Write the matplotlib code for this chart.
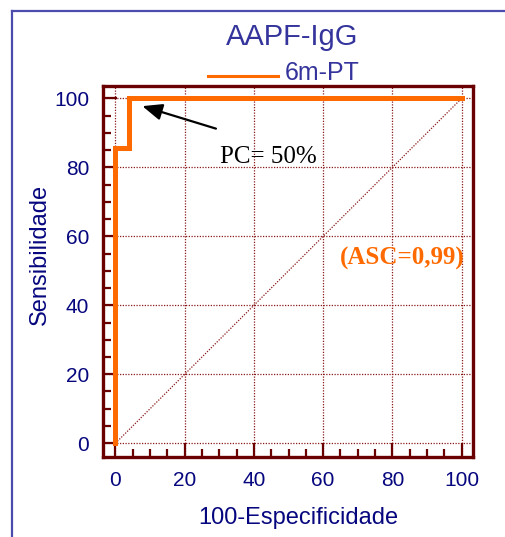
import matplotlib
matplotlib.use("Agg")
import matplotlib.pyplot as plt
from matplotlib.lines import Line2D
from matplotlib.ticker import MultipleLocator

# curva ROC (100-especificidade, sensibilidade)
fpr = [0, 0, 4, 4, 100]
tpr = [0, 85.7, 85.7, 100, 100]
ticks = [0, 20, 40, 60, 80, 100]
title = "AAPF-IgG"
serie = "6m-PT"
auc_txt = "(ASC=0,99)"
pc_txt = "PC= 50%"

W, H = 505, 537
fig = plt.figure(figsize=(W / 100, H / 100), dpi=100)

navy = "#06067e"
blue_t = "#34349c"
dred = "#6b0000"
orange = "#ff6a00"

# moldura externa
fig.add_artist(Line2D([12 / W, 12 / W], [0, 1 - 11 / H], color="#4c4cae", lw=1.6, transform=fig.transFigure))
fig.add_artist(Line2D([12 / W, 1], [1 - 11 / H, 1 - 11 / H], color="#4c4cae", lw=1.6, transform=fig.transFigure))

ax = fig.add_axes([103 / W, 1 - 457 / H, 370 / W, 371 / H])
ax.set_xlim(-3.6, 103.3)
ax.set_ylim(-4.0, 103.6)

for s in ax.spines.values():
    s.set_color(dred)
    s.set_linewidth(2.4)

ax.xaxis.set_minor_locator(MultipleLocator(5))
ax.yaxis.set_minor_locator(MultipleLocator(5))
ax.set_xticks(ticks)
ax.set_yticks(ticks)
ax.tick_params(which="major", direction="in", length=10, width=1.6, color=dred,
               labelcolor=navy, labelsize=15, pad=10)
ax.tick_params(which="minor", direction="in", length=5.5, width=1.6, color=dred)
for lab in ax.get_xticklabels() + ax.get_yticklabels():
    lab.set_family("Liberation Sans")

# grade pontilhada
for t in ticks:
    ax.plot([t, t], [-4.0, 103.6], color="#8b1a1a", lw=0.9, ls=(0, (1, 1.2)), zorder=1)
    ax.plot([-3.6, 103.3], [t, t], color="#8b1a1a", lw=0.9, ls=(0, (1, 1.2)), zorder=1)
ax.plot([0, 100], [0, 100], color="#8b1a1a", lw=0.9, ls=(0, (1, 1.2)), zorder=1)

ax.plot(fpr, tpr, color=orange, lw=3.6, solid_joinstyle="miter", zorder=3)

ax.set_xlabel("100-Especificidade", color=navy, fontsize=17, family="Liberation Sans", labelpad=12)
ax.set_ylabel("Sensibilidade", color=navy, fontsize=17, family="Liberation Sans", labelpad=2)
ax.xaxis.set_label_coords(0.527, -0.135)
ax.yaxis.label.set_y(0.547)

ax.annotate("", xy=(7.0, 98.0), xytext=(29.8, 91.0),
            arrowprops=dict(arrowstyle="-|>,head_length=1.2,head_width=0.5", color="black", lw=1.6))
ax.text(30.3, 83.0, pc_txt, family="Liberation Serif", fontsize=18, color="black", va="center", ha="left")
ax.text(82.8, 53.6, auc_txt, family="Liberation Serif", fontsize=18, fontweight="bold",
        color=orange, va="center", ha="center")

fig.text(292 / W, 1 - 37 / H, title, color=blue_t, fontsize=21, family="Liberation Sans", ha="center", va="center")
fig.add_artist(Line2D([208 / W, 278 / W], [1 - 76 / H, 1 - 76 / H], color=orange, lw=2.2, transform=fig.transFigure))
fig.text(285 / W, 1 - 73 / H, serie, color=blue_t, fontsize=18, family="Liberation Sans", ha="left", va="center")

fig.savefig("out.png", dpi=100)
